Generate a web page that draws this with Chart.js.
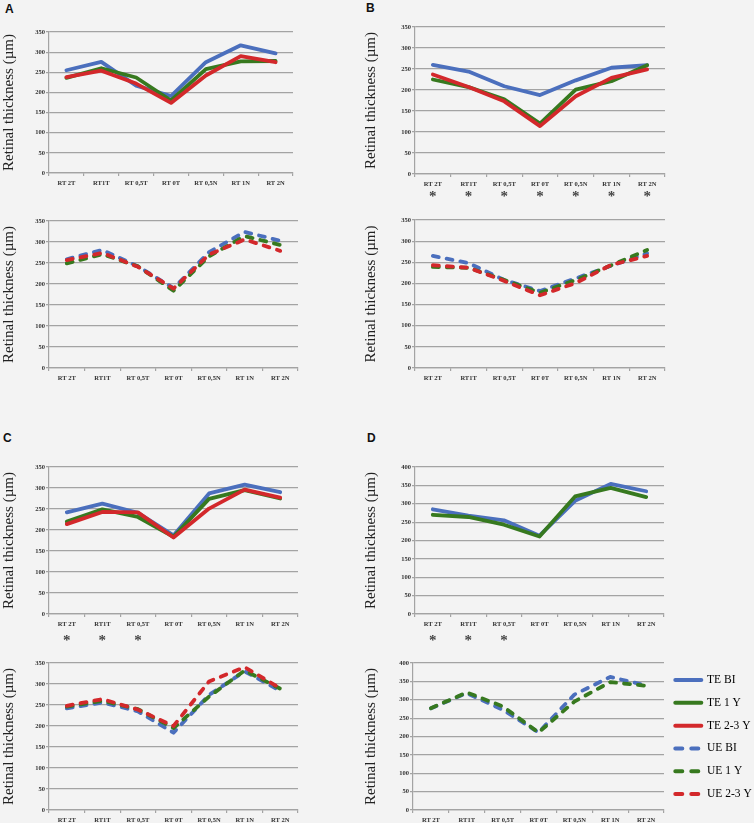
<!DOCTYPE html>
<html>
<head>
<meta charset="utf-8">
<script src="https://cdn.jsdelivr.net/npm/chart.js@4.4.1/dist/chart.umd.min.js"></script>
<style>
  body { margin: 0; background: #f3f3f3; width: 754px; height: 823px; position: relative; overflow: hidden; }
  canvas { position: absolute; }
  .tag { position: absolute; font-family: "Liberation Sans", Arial, sans-serif; font-weight: bold; font-size: 12px; line-height: 12px; color: #111; }
</style>
</head>
<body>
<div class="tag" style="left:5px;top:3px">A</div>
<div class="tag" style="left:366px;top:2px">B</div>
<div class="tag" style="left:3px;top:432px">C</div>
<div class="tag" style="left:367px;top:432px">D</div>
<script>
// categories shared by all panels
const categories = ["RT 2T", "RT1T", "RT 0,5T", "RT 0T", "RT 0,5N", "RT 1N", "RT 2N"];
const yTitle = "Retinal thickness (\u00b5m)";
const seriesNames = ["TE BI", "TE 1 Y", "TE 2-3 Y", "UE BI", "UE 1 Y", "UE 2-3 Y"];

// panel A
const teBiA = [255, 276, 217, 191, 275, 317, 297];
const te1yA = [236, 260, 237, 180, 258, 277, 278];
const te23A = [238, 254, 222, 174, 242, 290, 275];
const ueBiA = [259, 281, 242, 190, 276, 324, 303];
const ue1yA = [249, 271, 242, 184, 266, 314, 293];
const ue23A = [257, 274, 241, 189, 270, 306, 279];

// panel B
const teBiB = [260, 244, 209, 188, 223, 253, 259];
const te1yB = [225, 207, 178, 120, 201, 221, 259];
const te23B = [237, 207, 173, 114, 185, 229, 249];
const ueBiB = [265, 248, 208, 182, 212, 242, 271];
const ue1yB = [239, 237, 208, 178, 208, 243, 279];
const ue23B = [243, 237, 206, 172, 201, 244, 265];

// panel C
const teBiC = [242, 263, 241, 187, 287, 308, 290];
const te1yC = [220, 249, 231, 184, 274, 295, 275];
const te23C = [214, 243, 242, 182, 251, 296, 277];
const ueBiC = [242, 256, 235, 184, 274, 330, 284];
const ue1yC = [246, 260, 240, 195, 270, 332, 289];
const ue23C = [248, 264, 239, 200, 306, 340, 290];

// panel D (no 2-3 Y group)
const teBiD = [285, 268, 255, 213, 308, 354, 334];
const te1yD = [270, 264, 243, 211, 320, 343, 318];
const ueBiD = [277, 318, 273, 211, 314, 362, 339];
const ue1yD = [277, 320, 282, 211, 295, 348, 338];

// significance markers under the x axis
const starsB = [1, 1, 1, 1, 1, 1, 1];
const starsC = [1, 1, 1, 0, 0, 0, 0];
const starsD = [1, 1, 1, 0, 0, 0, 0];

// styles
const seriesColors = ["#4b6fbd", "#37791f", "#d3282b", "#4b6fbd", "#37791f", "#d3282b"];
const seriesDash = [[], [], [], [6, 8], [6, 8], [6, 8]];
const gridColor = "#a3a3a3";
const serif = '"Liberation Serif", "Times New Roman", serif';

function makePanel(box, plot, series, yMax, stars, withLegend) {
	const [bl, bt, bw, bh] = box;
	const [pl, pt, pr, pb] = plot;
	const canvas = document.createElement("canvas");
	canvas.width = bw;
	canvas.height = bh;
	canvas.style.left = bl + "px";
	canvas.style.top = bt + "px";
	document.body.appendChild(canvas);

	const datasets = series.map(([values, idx]) => ({
		label: seriesNames[idx],
		data: values,
		borderColor: seriesColors[idx],
		backgroundColor: seriesColors[idx],
		borderWidth: 3.8,
		borderDash: seriesDash[idx],
		borderCapStyle: "round",
		borderJoinStyle: "round",
		pointRadius: 0,
		tension: 0,
		fill: false,
		order: 3 - (idx % 3),
	}));

	// draws the asterisks below the category labels
	const starPlugin = {
		id: "stars",
		afterDraw(chart) {
			if (!stars) return;
			const ctx = chart.ctx;
			const xs = chart.scales.x;
			ctx.save();
			ctx.font = "bold 15px " + serif;
			ctx.fillStyle = "#444";
			ctx.textAlign = "center";
			ctx.textBaseline = "middle";
			stars.forEach((s, i) => {
				if (s) ctx.fillText("*", xs.getPixelForValue(i), chart.chartArea.bottom + stars.gap);
			});
			ctx.restore();
		},
	};

	new Chart(canvas, {
		type: "line",
		data: { labels: categories, datasets: datasets },
		options: {
			responsive: false,
			animation: false,
			layout: {
				padding: { top: pt - bt, right: withLegend ? 0 : bl + bw - pr, bottom: 0, left: 0 },
			},
			plugins: {
				tooltip: { enabled: false },
				legend: withLegend
					? {
							display: true,
							position: "right",
							align: "start",
							maxWidth: 90,
							labels: {
								usePointStyle: true,
								pointStyleWidth: 26,
								padding: 11.3,
								color: "#111",
								font: { family: serif, size: 11.5 },
								generateLabels: () =>
									seriesNames.map((name, i) => ({
										text: name,
										fillStyle: seriesColors[i],
										strokeStyle: seriesColors[i],
										lineWidth: 4,
										lineCap: "round",
										lineDash: i < 3 ? [] : [7, 9],
										pointStyle: "line",
										rotation: 0,
										hidden: false,
									})),
							},
					  }
					: { display: false },
			},
			scales: {
				x: {
					offset: true,
					afterFit: (s) => { s.height = bt + bh - pb; },
					grid: { offset: true, drawOnChartArea: false, drawTicks: true, tickLength: 3, color: gridColor, lineWidth: 1.2 },
					border: { color: gridColor, width: 1.2 },
					ticks: { autoSkip: false, maxRotation: 0, padding: 3, color: "#333", font: { family: serif, size: 6.5, weight: "bold" } },
				},
				y: {
					min: 0,
					max: yMax,
					afterFit: (s) => { s.width = pl - bl; },
					grid: { color: gridColor, lineWidth: 1.2, tickLength: 3 },
					border: { color: gridColor, width: 1.2 },
					ticks: { stepSize: 50, padding: 1, color: "#333", font: { family: serif, size: 6.5, weight: "bold" } },
					title: { display: true, text: yTitle, color: "#222", padding: { top: 0, bottom: 0 }, font: { family: serif, size: 15 } },
				},
			},
		},
		plugins: [starPlugin],
	});
}

starsB.gap = 23;
starsC.gap = 27;
starsD.gap = 27;

makePanel([0, 18, 305, 182], [49, 32, 293, 173], [[teBiA, 0], [te1yA, 1], [te23A, 2]], 350, null, false);
makePanel([0, 205, 305, 180], [49, 221, 298, 368], [[ueBiA, 3], [ue1yA, 4], [ue23A, 5]], 350, null, false);
makePanel([362, 12, 306, 200], [415, 27, 665, 174], [[teBiB, 0], [te1yB, 1], [te23B, 2]], 350, starsB, false);
makePanel([362, 212, 306, 175], [415, 220, 665, 368], [[ueBiB, 3], [ue1yB, 4], [ue23B, 5]], 350, null, false);
makePanel([0, 452, 305, 198], [49, 467, 298, 614], [[teBiC, 0], [te1yC, 1], [te23C, 2]], 350, starsC, false);
makePanel([362, 452, 306, 198], [415, 467, 664, 614], [[teBiD, 0], [te1yD, 1]], 400, starsD, false);
makePanel([0, 650, 305, 173], [49, 663, 298, 810], [[ueBiC, 3], [ue1yC, 4], [ue23C, 5]], 350, null, false);
makePanel([362, 650, 392, 173], [413, 663, 664, 810], [[ueBiD, 3], [ue1yD, 4]], 400, null, true);
</script>
</body>
</html>
